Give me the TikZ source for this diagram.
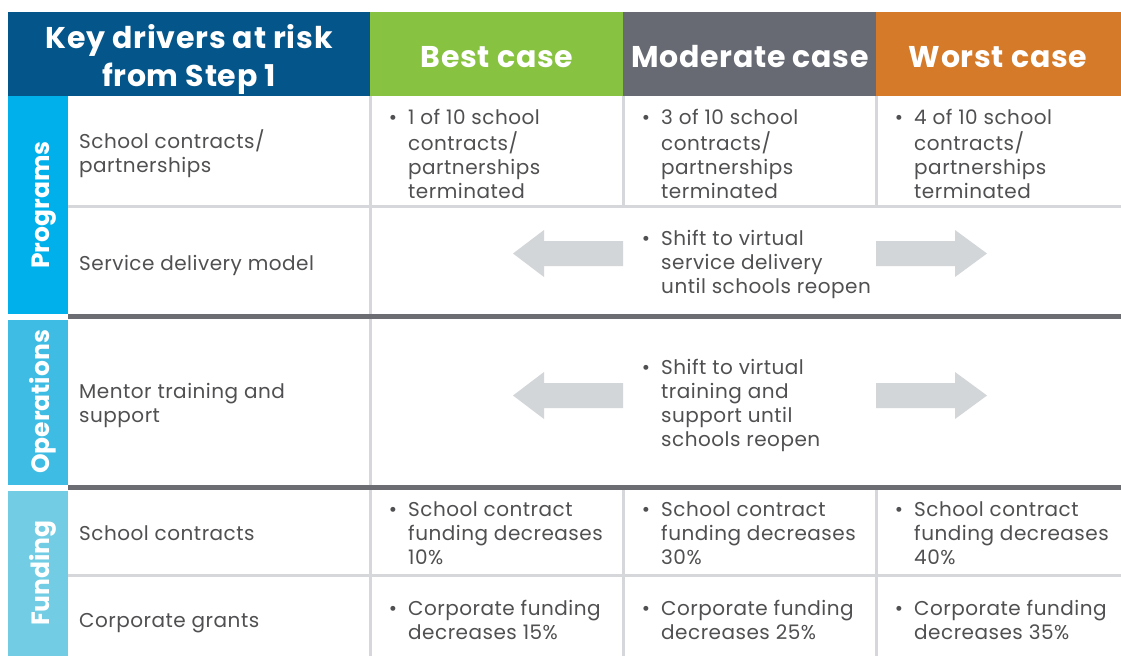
\documentclass[tikz,border=0pt]{standalone}
\usepackage{fontspec}
\setmainfont{Poppins}
\newfontfamily\bodyfam[LetterSpace=2.5]{Poppins}
\newfontfamily\hdrfam[LetterSpace=2.5]{Poppins}
\definecolor{hdrblue}{HTML}{03558A}
\definecolor{bestc}{HTML}{87C241}
\definecolor{modc}{HTML}{676A73}
\definecolor{worstc}{HTML}{D47A29}
\definecolor{progc}{HTML}{00B0EA}
\definecolor{operc}{HTML}{3EBCE3}
\definecolor{fundc}{HTML}{72CDE4}
\definecolor{txtc}{HTML}{505052}
\definecolor{thinc}{HTML}{D5D7DA}
\definecolor{thickc}{HTML}{6C6D73}
\definecolor{arrc}{HTML}{D3D6D9}
\newcommand{\cellt}[1]{\begin{tabular}[t]{@{}l@{}}#1\end{tabular}}
\newcommand{\bitem}[1]{\llap{•\hspace{11pt}}\cellt{#1}}
\tikzset{
  body/.style={anchor=base west, inner sep=0pt, text=txtc, font=\bodyfam\fontsize{20}{24}\selectfont},
  hdr/.style={anchor=base, inner sep=0pt, text=white, font=\hdrfam\bfseries\fontsize{30}{38}\selectfont},
  cat/.style={anchor=base, inner sep=0pt, rotate=90, text=white, font=\bfseries\fontsize{25}{30}\selectfont},
  thinl/.style={draw=thinc, line width=3pt},
  thickl/.style={draw=thickc, line width=5pt},
  arrowfill/.style={fill=arrc}
}
\begin{document}
\begin{tikzpicture}[x=1pt,y=-1pt]
\useasboundingbox (0,0) rectangle (1121,656);
\fill[white] (0,0) rectangle (1121,656);
% header bands
\fill[hdrblue] (8,12) rectangle (370,96);
\fill[bestc] (370,12) rectangle (623,96);
\fill[modc] (623,12) rectangle (876,96);
\fill[worstc] (876,12) rectangle (1121,96);
% category bars
\fill[progc] (8,96) rectangle (68,314);
\fill[operc] (8,320) rectangle (68,485);
\fill[fundc] (8,491) rectangle (68,656);
% thin grid lines
\draw[thinl] (68,206) -- (1121,206);
\draw[thinl] (68,575) -- (1121,575);
\draw[thinl] (370,96) -- (370,656);
\draw[thinl] (623,96) -- (623,206);
\draw[thinl] (876,96) -- (876,206);
\draw[thinl] (623,490) -- (623,656);
\draw[thinl] (876,490) -- (876,656);
% thick separators
\draw[thickl] (68,316.5) -- (1121,316.5);
\draw[thickl] (68,487.5) -- (1121,487.5);
% arrows
\fill[arrowfill] (623,241) -- (544,241) -- (544,230) -- (513,253.5) -- (544,277) -- (544,266) -- (623,266) -- cycle;
\fill[arrowfill] (876,241) -- (955,241) -- (955,230) -- (987,253.5) -- (955,277) -- (955,266) -- (876,266) -- cycle;
\fill[arrowfill] (623,383) -- (544,383) -- (544,372) -- (513,395.5) -- (544,419) -- (544,408) -- (623,408) -- cycle;
\fill[arrowfill] (876,383) -- (955,383) -- (955,372) -- (987,395.5) -- (955,419) -- (955,408) -- (876,408) -- cycle;
% header text
\node[hdr] (hkey) at (189,48) {\begin{tabular}[t]{@{}c@{}}Key drivers at risk\\from Step 1\end{tabular}};
\node[hdr] (hbest) at (497,67) {Best case};
\node[hdr] (hmod) at (750,67) {Moderate case};
\node[hdr] (hworst) at (998,67) {Worst case};
% category labels
\node[cat] (cprog) at (49,205) {Programs};
\node[cat] (coper) at (49,402) {Operations};
\node[cat] (cfund) at (49,573) {Funding};
% row labels
\node[body] (l1) at (79,148) {\cellt{School contracts/\\partnerships}};
\node[body] (l2) at (79,270) {Service delivery model};
\node[body] (l3) at (79,398) {\cellt{Mentor training and\\support}};
\node[body] (l4) at (79,540) {School contracts};
\node[body] (l5) at (79,627) {Corporate grants};
% row 1 cells
\node[body] (b1) at (408,124) {\bitem{1 of 10 school\\contracts/\\partnerships\\terminated}};
\node[body] (m1) at (661,124) {\bitem{3 of 10 school\\contracts/\\partnerships\\terminated}};
\node[body] (w1) at (914,124) {\bitem{4 of 10 school\\contracts/\\partnerships\\terminated}};
% service delivery
\node[body] (m2) at (661,245) {\bitem{Shift to virtual\\service delivery\\until schools reopen}};
% mentor training
\node[body] (m3) at (661,374) {\bitem{Shift to virtual\\training and\\support until\\schools reopen}};
% school contracts funding
\node[body] (b4) at (408,516) {\bitem{School contract\\funding decreases\\10\%}};
\node[body] (m4) at (661,516) {\bitem{School contract\\funding decreases\\30\%}};
\node[body] (w4) at (914,516) {\bitem{School contract\\funding decreases\\40\%}};
% corporate grants
\node[body] (b5) at (408,615) {\bitem{Corporate funding\\decreases 15\%}};
\node[body] (m5) at (661,615) {\bitem{Corporate funding\\decreases 25\%}};
\node[body] (w5) at (914,615) {\bitem{Corporate funding\\decreases 35\%}};
\end{tikzpicture}
\end{document}
